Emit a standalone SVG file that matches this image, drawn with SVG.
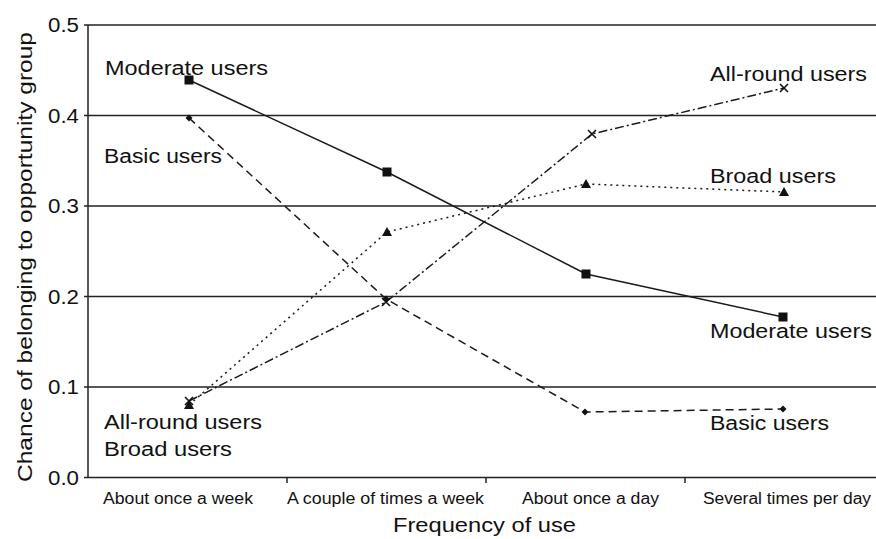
<svg xmlns="http://www.w3.org/2000/svg" width="876" height="539" viewBox="0 0 876 539">
<style>
text{font-family:"Liberation Sans",Arial,sans-serif;fill:#111}
.big{font-size:20px}
.tick{font-size:20px}
.cat{font-size:16px}
.grid{stroke:#222;stroke-width:1.5;fill:none}
.ser{fill:none;stroke:#1a1a1a;stroke-width:1.5}
.bas{stroke-dasharray:8 5}
.all{stroke-dasharray:9 3 2 3}
.bro{stroke-dasharray:2 4}
.mk{fill:#111;stroke:none}
.xm{fill:none;stroke:#111;stroke-width:1.6}
</style>
<defs>
<rect id="sq" x="-4.5" y="-4.5" width="9" height="9" class="mk"/>
<path id="dm" d="M0,-3.5 L3.5,0 L0,3.5 L-3.5,0Z" class="mk"/>
<path id="tr" d="M0,-5 L5,4 L-5,4Z" class="mk"/>
<path id="xx" d="M-4,-4 L4,4 M-4,4 L4,-4" class="xm"/>
</defs>
<rect width="876" height="539" fill="#fff"/>
<g id="axes">
<path class="grid" d="M84,25H876M84,115.5H876M84,206H876M84,296.5H876M84,387H876M84,477.5H876M88,25V477.5M287,477.5V483M486,477.5V483M685,477.5V483"/>
<text class="tick" x="48" y="32" textLength="31" lengthAdjust="spacingAndGlyphs">0.5</text>
<text class="tick" x="48" y="123" textLength="31" lengthAdjust="spacingAndGlyphs">0.4</text>
<text class="tick" x="48" y="213" textLength="31" lengthAdjust="spacingAndGlyphs">0.3</text>
<text class="tick" x="48" y="304" textLength="31" lengthAdjust="spacingAndGlyphs">0.2</text>
<text class="tick" x="48" y="394" textLength="31" lengthAdjust="spacingAndGlyphs">0.1</text>
<text class="tick" x="48" y="485" textLength="31" lengthAdjust="spacingAndGlyphs">0.0</text>
<text class="cat" x="103" y="504" textLength="150" lengthAdjust="spacingAndGlyphs">About once a week</text>
<text class="cat" x="287" y="504" textLength="197" lengthAdjust="spacingAndGlyphs">A couple of times a week</text>
<text class="cat" x="522" y="504" textLength="137" lengthAdjust="spacingAndGlyphs">About once a day</text>
<text class="cat" x="703" y="504" textLength="168" lengthAdjust="spacingAndGlyphs">Several times per day</text>
<text class="big" x="393" y="532" textLength="183" lengthAdjust="spacingAndGlyphs">Frequency of use</text>
<text class="big" transform="translate(32,482) rotate(-90)" x="0" y="0" font-size="19" textLength="450" lengthAdjust="spacingAndGlyphs">Chance of belonging to opportunity group</text>
</g>
<g id="connectors">
<polyline class="ser" points="189,80 387,172 586,274 783,317"/>
<polyline class="ser bas" points="189,118 386,299 585,412 783,409"/>
<polyline class="ser all" points="189,401 386,302 592,134 784,88"/>
<polyline class="ser bro" points="189,405 387,232 586,184 784,192"/>
</g>
<g id="moderate">
<use href="#sq" x="189" y="80"/><use href="#sq" x="387" y="172"/><use href="#sq" x="586" y="274"/><use href="#sq" x="783" y="317"/>
<text class="big" x="105" y="75" textLength="163" lengthAdjust="spacingAndGlyphs">Moderate users</text>
<text class="big" x="710" y="338" textLength="162" lengthAdjust="spacingAndGlyphs">Moderate users</text>
</g>
<g id="basic">
<use href="#dm" x="189" y="118"/><use href="#dm" x="386" y="299"/><use href="#dm" x="585" y="412"/><use href="#dm" x="783" y="409"/>
<text class="big" x="104" y="163" textLength="118" lengthAdjust="spacingAndGlyphs">Basic users</text>
<text class="big" x="710" y="430" textLength="119" lengthAdjust="spacingAndGlyphs">Basic users</text>
</g>
<g id="allround">
<use href="#xx" x="189" y="401"/><use href="#xx" x="386" y="302"/><use href="#xx" x="592" y="134"/><use href="#xx" x="784" y="88"/>
<text class="big" x="104" y="429" textLength="158" lengthAdjust="spacingAndGlyphs">All-round users</text>
<text class="big" x="710" y="81" textLength="157" lengthAdjust="spacingAndGlyphs">All-round users</text>
</g>
<g id="broad">
<use href="#tr" x="189" y="405"/><use href="#tr" x="387" y="232"/><use href="#tr" x="586" y="184"/><use href="#tr" x="784" y="192"/>
<text class="big" x="104" y="456" textLength="128" lengthAdjust="spacingAndGlyphs">Broad users</text>
<text class="big" x="710" y="183" textLength="126" lengthAdjust="spacingAndGlyphs">Broad users</text>
</g>
</svg>
